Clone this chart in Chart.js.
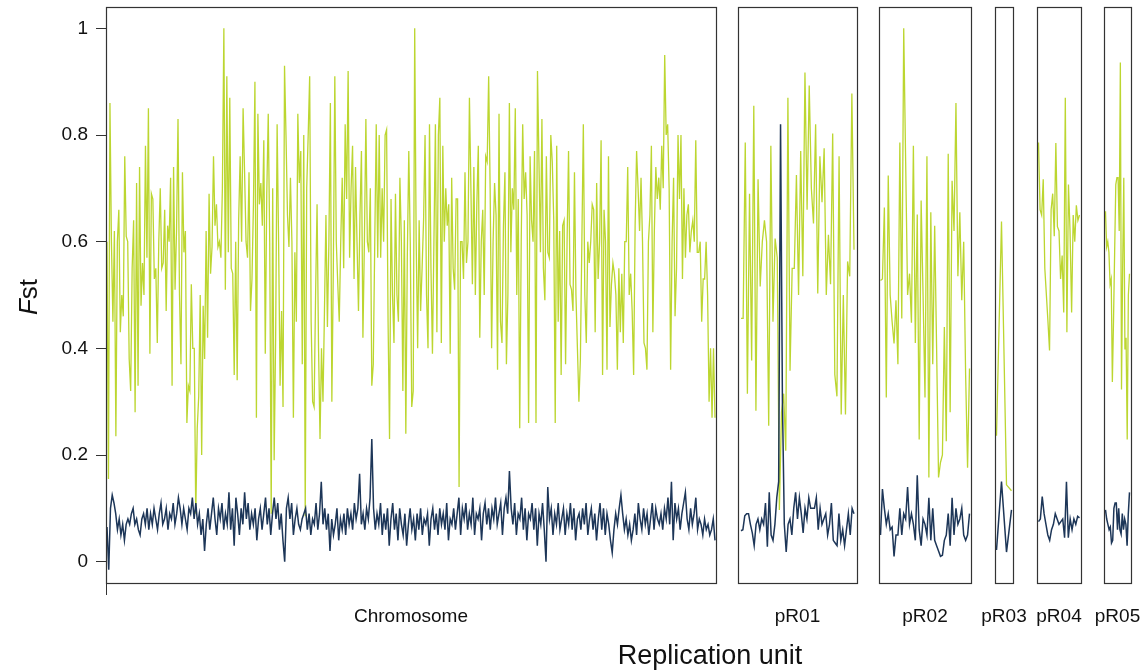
<!DOCTYPE html>
<html lang="en">
<head>
  <meta charset="UTF-8" />
  <title>Fst by replication unit</title>
  <style>
    html, body {
      margin: 0;
      padding: 0;
      background: #fff;
    }
    #wrap {
      position: relative;
      width: 1148px;
      height: 670px;
    }
  </style>
</head>
<body>

  <div id="wrap"><canvas id="fstChart" width="1148" height="670"></canvas></div>

  <script src="https://cdn.jsdelivr.net/npm/chart.js"></script>

  <script>
    // replication units (one panel each), y ticks and axis titles
    const units = ['Chromosome', 'pR01', 'pR02', 'pR03', 'pR04', 'pR05'];
    const yTicks = [0, 0.2, 0.4, 0.6, 0.8, 1];
    const xTitle = 'Replication unit';

    // Fst values, green series (left to right)
    const chromosomeGreen = [
      0.6, 0.155, 0.86, 0.6, 0.45, 0.62, 0.235, 0.6, 0.66, 0.43, 0.5, 0.46, 0.76, 0.61, 0.6, 0.38, 0.32, 0.55, 0.64, 0.28,
      0.71, 0.33, 0.74, 0.48, 0.56, 0.5, 0.78, 0.57, 0.85, 0.39, 0.69, 0.68, 0.53, 0.55, 0.41, 0.6, 0.7, 0.55, 0.56, 0.66,
      0.47, 0.63, 0.6, 0.72, 0.33, 0.74, 0.51, 0.62, 0.83, 0.5, 0.37, 0.73, 0.58, 0.62, 0.26, 0.33, 0.32, 0.52, 0.4, 0.4,
      0.09, 0.25, 0.31, 0.5, 0.2, 0.48, 0.38, 0.62, 0.42, 0.69, 0.54, 0.59, 0.76, 0.63, 0.67, 0.59, 0.6, 0.57, 0.7, 1.0,
      0.51, 0.91, 0.58, 0.87, 0.55, 0.54, 0.35, 0.6, 0.34, 0.64, 0.76, 0.6, 0.85, 0.73, 0.6, 0.57, 0.73, 0.47,
      0.53, 0.67, 0.9, 0.27, 0.84, 0.67, 0.71, 0.63, 0.79, 0.39, 0.69, 0.84, 0.6, 0.09, 0.7, 0.19, 0.42, 0.82, 0.6, 0.33,
      0.47, 0.29, 0.93, 0.8, 0.65, 0.59, 0.72, 0.6, 0.27, 0.58, 0.45, 0.84, 0.71, 0.77, 0.37, 0.8, 0.085, 0.7, 0.8, 0.91,
      0.45, 0.3, 0.29, 0.5, 0.67, 0.4, 0.23, 0.4, 0.3, 0.47, 0.65, 0.44, 0.6, 0.86, 0.3, 0.55, 0.91, 0.6, 0.52, 0.45,
      0.6, 0.72, 0.55, 0.82, 0.68, 0.92, 0.57, 0.7, 0.78, 0.53, 0.74, 0.6, 0.47, 0.65, 0.77, 0.42, 0.6, 0.83, 0.6, 0.58,
      0.7, 0.33, 0.37, 0.6, 0.82, 0.57, 0.8, 0.57, 0.7, 0.6, 0.8,
      0.81, 0.45, 0.23, 0.68, 0.5, 0.41, 0.69, 0.5, 0.45, 0.72, 0.6, 0.32, 0.64, 0.24, 0.57, 0.77, 0.6, 0.29, 0.32, 1.0,
      0.6, 0.4, 0.64, 0.47, 0.55, 0.64, 0.8, 0.5, 0.4, 0.82, 0.55, 0.39, 0.6, 0.82, 0.43, 0.8, 0.87, 0.41, 0.78, 0.6,
      0.7, 0.63, 0.67, 0.39, 0.72, 0.55, 0.51, 0.68, 0.68, 0.14, 0.6, 0.6, 0.53, 0.73, 0.56, 0.6, 0.87, 0.7, 0.52, 0.74,
      0.5, 0.67, 0.78, 0.42, 0.6, 0.66, 0.5, 0.76, 0.75, 0.91, 0.7, 0.4, 0.6, 0.71, 0.65, 0.36, 0.84, 0.45, 0.41, 0.63,
      0.73, 0.37, 0.5, 0.86, 0.58, 0.7, 0.66, 0.85, 0.5, 0.68, 0.25, 0.6, 0.82, 0.68, 0.73, 0.65, 0.26, 0.76, 0.64, 0.6,
      0.77, 0.26, 0.92, 0.75, 0.58, 0.83, 0.55,
      0.49, 0.76, 0.58, 0.57, 0.8, 0.75, 0.64, 0.26, 0.78, 0.45, 0.62, 0.35, 0.63, 0.64, 0.37, 0.6, 0.77, 0.52, 0.51, 0.47,
      0.73, 0.5, 0.4, 0.3, 0.38, 0.6, 0.82, 0.5, 0.41, 0.6, 0.56, 0.6, 0.67, 0.66, 0.43, 0.71, 0.53, 0.6, 0.79, 0.35,
      0.66, 0.6, 0.36, 0.76, 0.44, 0.52, 0.56, 0.54, 0.5, 0.36, 0.55, 0.43, 0.54, 0.41, 0.6, 0.6, 0.74, 0.5, 0.54, 0.47,
      0.35, 0.63, 0.77, 0.7, 0.62, 0.72, 0.6, 0.41, 0.4, 0.36, 0.6, 0.65, 0.78, 0.43, 0.62, 0.74, 0.68, 0.72, 0.66, 0.78,
      0.7, 0.95, 0.8, 0.82, 0.7, 0.36, 0.6, 0.72, 0.46, 0.55, 0.8, 0.68, 0.8, 0.53, 0.7, 0.57, 0.65, 0.67, 0.58, 0.62,
      0.64, 0.6, 0.79, 0.58, 0.58, 0.6, 0.45, 0.53, 0.53, 0.6, 0.5, 0.3, 0.4, 0.27, 0.4, 0.27
    ];
    const pR01Green = [
      0.456, 0.456, 0.786, 0.315, 0.69, 0.377, 0.855, 0.283, 0.717, 0.516, 0.6, 0.64, 0.6, 0.255, 0.78, 0.45, 0.606, 0.57,
      0.097, 0.28, 0.315, 0.208, 0.87, 0.358, 0.55, 0.55, 0.725, 0.5, 0.77, 0.535, 0.917, 0.66, 0.893, 0.7, 0.634, 0.82,
      0.503, 0.76, 0.674, 0.775, 0.5, 0.613, 0.52, 0.803, 0.351, 0.31, 0.76, 0.276, 0.5, 0.276, 0.563, 0.535, 0.878, 0.585
    ];
    const pR02Green = [
      0.527, 0.53, 0.664, 0.308, 0.724, 0.5, 0.45, 0.409, 0.49, 0.37, 0.786, 0.456, 1.0, 0.75, 0.5, 0.54, 0.448, 0.78,
      0.41, 0.651, 0.229, 0.677, 0.5, 0.308, 0.76, 0.158, 0.655, 0.37, 0.63, 0.4, 0.158, 0.186, 0.2, 0.44, 0.226, 0.765,
      0.28, 0.714, 0.62, 0.86, 0.535, 0.655, 0.49, 0.6, 0.35, 0.176, 0.362
    ];
    const pR03Green = [0.236, 0.638, 0.144, 0.133];
    const pR04Green = [
      0.786, 0.66, 0.65, 0.717, 0.55, 0.5, 0.45, 0.396, 0.66, 0.69, 0.61, 0.785, 0.628, 0.62, 0.53, 0.574, 0.467, 0.87,
      0.43, 0.707, 0.62, 0.467, 0.65, 0.6, 0.668, 0.64, 0.65
    ];
    const pR05Green = [
      0.657, 0.59, 0.6, 0.58, 0.52, 0.53, 0.337, 0.45, 0.58, 0.707, 0.72, 0.72, 0.62, 0.936, 0.323, 0.55, 0.72, 0.398,
      0.42, 0.229, 0.5, 0.54
    ];

    // Fst values, dark blue series
    const chromosomeBlue = [
      0.065, -0.015, 0.1, 0.125, 0.11, 0.09, 0.06, 0.08, 0.05, 0.07, 0.04, 0.07, 0.08, 0.07, 0.09, 0.1, 0.07, 0.08, 0.06, 0.05,
      0.08, 0.09, 0.07, 0.1, 0.06, 0.09, 0.07, 0.1, 0.08, 0.06, 0.09, 0.11, 0.07, 0.08, 0.1, 0.06, 0.09, 0.08, 0.11, 0.07,
      0.09, 0.12, 0.1, 0.07, 0.1, 0.08, 0.06, 0.1, 0.09, 0.12, 0.08, 0.11, 0.07, 0.09, 0.05, 0.08, 0.02, 0.07, 0.1, 0.06,
      0.09, 0.12, 0.08, 0.05, 0.1, 0.08, 0.11, 0.06, 0.09, 0.07, 0.13, 0.06, 0.1, 0.03, 0.12, 0.09, 0.05, 0.1, 0.07, 0.13,
      0.08, 0.11, 0.06, 0.09, 0.07, 0.1, 0.04, 0.08, 0.1, 0.06, 0.09, 0.12, 0.07, 0.1, 0.05, 0.09, 0.12, 0.08, 0.11, 0.06,
      0.09, 0.04, 0.0, 0.1, 0.12, 0.08, 0.11, 0.05, 0.08, 0.1, 0.07, 0.06, 0.08, 0.09, 0.1, 0.06, 0.09, 0.05, 0.08, 0.07,
      0.11, 0.06, 0.09, 0.15, 0.07, 0.1, 0.06, 0.09, 0.02, 0.08, 0.05, 0.07, 0.1, 0.04, 0.08, 0.06, 0.09, 0.05, 0.1, 0.07,
      0.09, 0.06, 0.11, 0.08, 0.1, 0.165, 0.07, 0.09, 0.06, 0.1, 0.08, 0.12, 0.23, 0.1, 0.06, 0.09, 0.07, 0.11, 0.05, 0.09,
      0.06, 0.1, 0.03, 0.08, 0.11, 0.06, 0.09, 0.04, 0.1, 0.07, 0.05, 0.09, 0.03, 0.07, 0.1, 0.06, 0.08, 0.04, 0.09, 0.06,
      0.1, 0.05, 0.08, 0.07, 0.09, 0.03, 0.08, 0.1, 0.06, 0.09, 0.05, 0.1, 0.07, 0.09, 0.06, 0.11, 0.04, 0.08, 0.07, 0.1,
      0.06, 0.09, 0.12, 0.05, 0.1, 0.08, 0.11, 0.06, 0.09, 0.07, 0.12, 0.05, 0.09, 0.08, 0.1, 0.04, 0.09, 0.11, 0.07, 0.1,
      0.06, 0.1, 0.08, 0.12, 0.07, 0.09, 0.11, 0.05, 0.1, 0.12, 0.09, 0.17, 0.1, 0.07, 0.11, 0.05, 0.09, 0.08, 0.12, 0.06,
      0.1, 0.04, 0.09, 0.08, 0.11, 0.06, 0.1, 0.03, 0.09, 0.07, 0.11, 0.06, 0.0, 0.14, 0.08, 0.1, 0.05, 0.09, 0.07, 0.11,
      0.06, 0.08, 0.1, 0.05, 0.09, 0.07, 0.11, 0.06, 0.1, 0.04, 0.08, 0.09, 0.06, 0.1, 0.07, 0.11, 0.05, 0.08, 0.1, 0.06,
      0.09, 0.04, 0.08, 0.11, 0.06, 0.1, 0.05, 0.09, 0.07, 0.04, 0.017, 0.06, 0.09, 0.07, 0.1, 0.125, 0.09, 0.06, 0.08, 0.05,
      0.07, 0.04, 0.06, 0.09, 0.05, 0.11, 0.08, 0.06, 0.1, 0.07, 0.09, 0.05, 0.08, 0.11, 0.06, 0.1, 0.08, 0.07, 0.09, 0.06,
      0.1, 0.08, 0.12, 0.07, 0.15, 0.04, 0.11, 0.08, 0.1, 0.06, 0.09, 0.11, 0.13, 0.08, 0.06, 0.1, 0.07, 0.09, 0.12, 0.06,
      0.08, 0.07, 0.05, 0.08, 0.06, 0.07, 0.05, 0.06, 0.08, 0.04
    ];
    const pR01Blue = [
      0.058, 0.06, 0.086, 0.09, 0.09, 0.07, 0.054, 0.03, 0.07, 0.08, 0.06, 0.08, 0.07, 0.11, 0.028, 0.13, 0.05, 0.04, 0.07,
      0.12, 0.15, 0.82, 0.3, 0.07, 0.018, 0.07, 0.08, 0.05, 0.1, 0.13, 0.08, 0.12, 0.09, 0.054, 0.1, 0.08, 0.12, 0.1, 0.1,
      0.1, 0.12, 0.06, 0.1, 0.07, 0.08, 0.09, 0.05, 0.07, 0.11, 0.04, 0.035, 0.03, 0.09, 0.04, 0.06, 0.03, 0.06, 0.09, 0.05,
      0.1, 0.09
    ];
    const pR02Blue = [
      0.05, 0.136, 0.1, 0.07, 0.09, 0.06, 0.065, 0.01, 0.05, 0.05, 0.1, 0.05, 0.09, 0.08, 0.14, 0.07, 0.09, 0.07, 0.04,
      0.162, 0.06, 0.03, 0.08, 0.07, 0.05, 0.12, 0.04, 0.1, 0.04, 0.03, 0.02, 0.01, 0.012, 0.04, 0.05, 0.09, 0.03, 0.12,
      0.05, 0.1, 0.07, 0.08, 0.1, 0.05, 0.04, 0.05, 0.09
    ];
    const pR03Blue = [0.022, 0.15, 0.018, 0.097];
    const pR04Blue = [
      0.075, 0.08, 0.122, 0.09, 0.07, 0.05, 0.04, 0.06, 0.07, 0.09, 0.08, 0.07, 0.075, 0.08, 0.045, 0.15, 0.045, 0.08, 0.06,
      0.08, 0.07, 0.085, 0.082
    ];
    const pR05Blue = [
      0.097, 0.08, 0.07, 0.06, 0.065, 0.035, 0.04, 0.1, 0.11, 0.11, 0.06, 0.1, 0.06, 0.052, 0.09, 0.06, 0.08, 0.07, 0.03,
      0.09, 0.13
    ];

    const greenSeries = [chromosomeGreen, pR01Green, pR02Green, pR03Green, pR04Green, pR05Green];
    const blueSeries = [chromosomeBlue, pR01Blue, pR02Blue, pR03Blue, pR04Blue, pR05Blue];

    // panel layout along the shared x axis (axis units)
    const panelStart = [0, 632, 773, 889, 931, 998];
    const panelWidth = [610, 119, 92, 18, 44, 27];
    const panelInset = [1, 3, 1.5, 1.5, 1.5, 1.5];

    const colors = {
      green: '#bcd630',
      blue: '#1d3658',
      frame: '#333333',
      text: '#111111'
    };
    const fontFamily = '"Liberation Sans", Arial, Helvetica, sans-serif';

    // spread a panel's values evenly across its box
    function toPoints(values, p) {
      const a = panelStart[p] + panelInset[p];
      const step = (panelWidth[p] - 2 * panelInset[p]) / (values.length - 1);
      return values.map((v, i) => ({ x: a + i * step, y: v }));
    }

    const datasets = [];
    units.forEach((u, p) => {
      datasets.push({ label: u + ' green', data: toPoints(greenSeries[p], p), borderColor: colors.green, borderWidth: 1.3, order: 2 });
      datasets.push({ label: u + ' blue', data: toPoints(blueSeries[p], p), borderColor: colors.blue, borderWidth: 1.5, order: 1 });
    });

    // panel boxes and the axis titles
    const panelPlugin = {
      id: 'panels',
      afterDatasetsDraw(chart) {
        const { ctx, chartArea, scales } = chart;
        ctx.save();
        ctx.strokeStyle = colors.frame;
        ctx.lineWidth = 1.2;
        units.forEach((u, p) => {
          const x0 = Math.round(scales.x.getPixelForValue(panelStart[p])) + 0.5;
          const x1 = Math.round(scales.x.getPixelForValue(panelStart[p] + panelWidth[p])) + 0.5;
          ctx.strokeRect(x0, Math.round(chartArea.top) + 0.5, x1 - x0, Math.round(chartArea.bottom - chartArea.top));
        });
        ctx.restore();
      },
      afterDraw(chart) {
        const ctx = chart.ctx;
        ctx.save();
        ctx.fillStyle = colors.text;

        // x title, placed under the middle of the figure as in the original
        ctx.font = '27px ' + fontFamily;
        ctx.textAlign = 'center';
        ctx.textBaseline = 'alphabetic';
        ctx.fillText(xTitle, 710, 664);

        // y title: italic F followed by st, rotated
        ctx.textAlign = 'left';
        ctx.translate(37, 297);
        ctx.rotate(-Math.PI / 2);
        ctx.font = 'italic 26px ' + fontFamily;
        const wF = ctx.measureText('F').width;
        ctx.font = '26px ' + fontFamily;
        const wst = ctx.measureText('st').width;
        const start = -(wF + wst) / 2;
        ctx.font = 'italic 26px ' + fontFamily;
        ctx.fillText('F', start, 0);
        ctx.font = '26px ' + fontFamily;
        ctx.fillText('st', start + wF, 0);
        ctx.restore();
      }
    };

    new Chart(document.getElementById('fstChart'), {
      type: 'line',
      data: { datasets },
      plugins: [panelPlugin],
      options: {
        responsive: false,
        animation: false,
        devicePixelRatio: 1,
        layout: { padding: { top: 7, right: 17, bottom: 0, left: 0 } },
        elements: {
          point: { radius: 0 },
          line: { tension: 0, fill: false }
        },
        plugins: {
          legend: { display: false },
          tooltip: { enabled: false }
        },
        scales: {
          x: {
            type: 'linear',
            min: 0,
            max: 1025,
            afterBuildTicks: s => {
              s.ticks = [{ value: 0 }].concat(units.map((u, p) => ({ value: panelStart[p] + panelWidth[p] / 2 })));
            },
            afterFit: s => {
              s.height = 87;
              s.paddingLeft = 0;
              s.paddingRight = 0;
            },
            border: { display: false },
            grid: {
              drawOnChartArea: false,
              tickLength: 12,
              color: ctx => (ctx.index === 0 ? colors.frame : 'rgba(0,0,0,0)')
            },
            ticks: {
              autoSkip: false,
              maxRotation: 0,
              padding: 10,
              color: colors.text,
              font: { size: 19, family: fontFamily },
              callback: (v, i) => (i === 0 ? '' : units[i - 1])
            }
          },
          y: {
            min: -0.04,
            max: 1.04,
            afterBuildTicks: s => { s.ticks = yTicks.map(v => ({ value: v })); },
            afterFit: s => {
              s.width = 106;
              s.paddingTop = 0;
              s.paddingBottom = 0;
            },
            border: { display: false },
            grid: { drawOnChartArea: false, tickLength: 10, color: colors.frame },
            ticks: {
              padding: 8,
              color: colors.text,
              font: { size: 19, family: fontFamily },
              callback: v => String(v)
            }
          }
        }
      }
    });
  </script>
</body>
</html>
